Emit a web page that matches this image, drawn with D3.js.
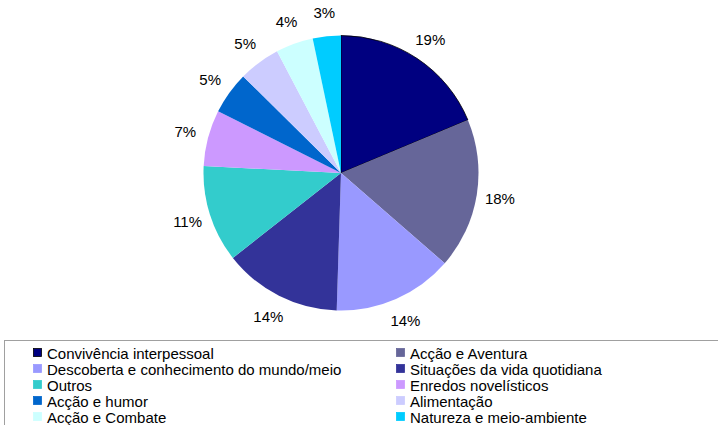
<!DOCTYPE html>
<html>
<head>
<meta charset="utf-8">
<script src="https://cdn.jsdelivr.net/npm/d3@7"></script>
<style>
  body { margin: 0; background: #fff; }
  svg { display: block; font-family: "Liberation Sans", Arial, sans-serif; }
</style>
</head>
<body>
<svg id="chart" width="718" height="425"></svg>
<script>
// categories and their shares
var categories = [
    "Convivência interpessoal",
    "Acção e Aventura",
    "Descoberta e conhecimento do mundo/meio",
    "Situações da vida quotidiana",
    "Outros",
    "Enredos novelísticos",
    "Acção e humor",
    "Alimentação",
    "Acção e Combate",
    "Natureza e meio-ambiente"
];
var shares = [18.7, 17.7, 14.1, 13.9, 11.4, 6.6, 5.0, 4.9, 4.4, 3.3];
var colours = ["#000080", "#666699", "#9999FF", "#333399", "#33CCCC",
               "#CC99FF", "#0066CC", "#CCCCFF", "#CCFFFF", "#00CCFF"];

var cx = 341, cy = 173, radius = 137.5, labelRadius = 161;

var svg = d3.select("#chart");
var total = d3.sum(shares);

var pie = d3.pie().sort(null).value(d => d);
var arc = d3.arc().innerRadius(0).outerRadius(radius);
var labelArc = d3.arc().innerRadius(labelRadius).outerRadius(labelRadius);

var slices = pie(shares);

var g = svg.append("g").attr("transform", "translate(" + cx + "," + cy + ")");

g.selectAll("path.slice")
    .data(slices)
    .enter()
    .append("path")
    .attr("class", "slice")
    .attr("d", arc)
    .attr("fill", (d, i) => colours[i])
    .attr("stroke", (d, i) => i == 0 ? "#000" : "none")
    .attr("stroke-width", 0.8);

g.selectAll("text.pct")
    .data(slices)
    .enter()
    .append("text")
    .attr("class", "pct")
    .attr("x", d => labelArc.centroid(d)[0])
    .attr("y", d => labelArc.centroid(d)[1] + 5.5)
    .attr("text-anchor", "middle")
    .attr("font-size", 15)
    .attr("fill", "#000")
    .text(d => Math.round(d.value / total * 100) + "%");

// legend box
svg.append("rect")
    .attr("x", 4.5)
    .attr("y", 340.5)
    .attr("width", 730)
    .attr("height", 100)
    .attr("fill", "#fff")
    .attr("stroke", "#a0a0a0")
    .attr("stroke-width", 1);

var colX = [33, 396];
var rowY = d3.scaleLinear().domain([0, 1]).range([353, 369]);

var legend = svg.selectAll("g.legendItem")
    .data(categories)
    .enter()
    .append("g")
    .attr("class", "legendItem")
    .attr("transform", (d, i) => "translate(" + colX[i % 2] + "," + rowY(Math.floor(i / 2)) + ")");

legend.append("rect")
    .attr("x", 0.5)
    .attr("y", -4.5)
    .attr("width", 8)
    .attr("height", 8)
    .attr("fill", (d, i) => colours[i])
    .attr("stroke", (d, i) => i == 0 ? "#000" : colours[i])
    .attr("stroke-width", 0.8);

legend.append("text")
    .attr("x", 14)
    .attr("y", 5.5)
    .attr("font-size", 15)
    .attr("fill", "#000")
    .text(d => d);
</script>
</body>
</html>
